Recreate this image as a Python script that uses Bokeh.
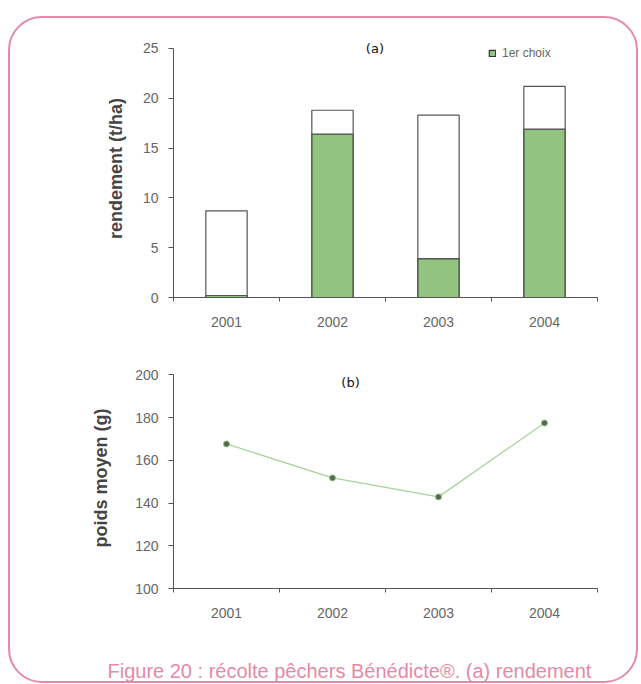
from bokeh.plotting import figure
from bokeh.layouts import column, row
from bokeh.models import (Range1d, FixedTicker, Label, Legend, LegendItem, Spacer,
                          ColumnDataSource, Title)
from bokeh.embed import file_html
from bokeh.resources import INLINE

years = ["2001", "2002", "2003", "2004"]
premier_choix = [0.2, 16.4, 3.9, 16.9]
total = [8.7, 18.8, 18.3, 21.2]
poids_moyen = [167.7, 151.8, 142.9, 177.5]

PINK = "#e48aa6"
GREEN = "#93c47f"
TICK_FONT = "Liberation Sans"

xpos = [i + 0.5 for i in range(len(years))]
autres = [t - p for t, p in zip(total, premier_choix)]
src = ColumnDataSource(dict(x=xpos, premier=premier_choix, autres=autres,
                            total=total, poids=poids_moyen))
overrides = {x: y for x, y in zip(xpos, years)}


def style(p, ylabel, yticks, label_standoff):
    p.xgrid.visible = False
    p.ygrid.visible = False
    p.outline_line_color = None
    p.background_fill_color = None
    p.border_fill_color = None
    p.xaxis.ticker = FixedTicker(ticks=xpos, minor_ticks=list(range(len(years) + 1)))
    p.xaxis.major_label_overrides = overrides
    p.xaxis.major_tick_in = 0
    p.xaxis.major_tick_out = 0
    p.xaxis.minor_tick_in = 0
    p.xaxis.minor_tick_out = 4
    p.yaxis.ticker = FixedTicker(ticks=yticks, minor_ticks=[])
    p.yaxis.bounds = (yticks[0], yticks[-1])
    p.yaxis.major_tick_in = 0
    p.yaxis.major_tick_out = 5
    for ax in (p.xaxis[0], p.yaxis[0]):
        ax.axis_line_color = "#555555"
        ax.major_tick_line_color = "#555555"
        ax.minor_tick_line_color = "#555555"
        ax.major_label_text_font = TICK_FONT
        ax.major_label_text_font_size = "14px"
        ax.major_label_text_color = "#666666"
    p.xaxis.major_label_standoff = 15
    p.yaxis.major_label_standoff = 10
    p.yaxis.axis_label = ylabel
    p.yaxis.axis_label_text_font = TICK_FONT
    p.yaxis.axis_label_text_font_size = "18px"
    p.yaxis.axis_label_text_font_style = "bold"
    p.yaxis.axis_label_text_color = "#444444"
    p.yaxis.axis_label_standoff = label_standoff


# (a) rendement
fa = figure(width=626, height=319, output_backend="svg", toolbar_location=None,
            x_range=Range1d(0, 4), y_range=Range1d(0, 25.9),
            min_border_left=163, min_border_right=39, min_border_top=21,
            min_border_bottom=40)
style(fa, "rendement (t/ha)", [0, 5, 10, 15, 20, 25], 14)
r_green = fa.vbar(x="x", bottom=0, top="premier", width=0.39, source=src,
                  fill_color=GREEN, line_color="#333333", line_width=1.2)
fa.vbar(x="x", bottom="premier", top="total", width=0.39, source=src,
        fill_color="white", line_color="#555555", line_width=1.2)
fa.add_layout(Label(x=1.9, y=25, text="(a)", text_align="center", text_baseline="middle",
                    text_font="DejaVu Sans", text_font_size="13px",
                    text_color="#111111"))
leg = Legend(items=[LegendItem(label="1er choix", renderers=[r_green])],
             location=(315, 237), orientation="vertical",
             glyph_width=8, glyph_height=8, label_standoff=6, label_height=12,
             padding=0, margin=0, border_line_color=None,
             background_fill_alpha=0,
             label_text_font=TICK_FONT, label_text_font_size="12px",
             label_text_color="#666666")
fa.add_layout(leg)

# (b) poids moyen
fb = figure(width=626, height=290, output_backend="svg", toolbar_location=None,
            x_range=Range1d(0, 4), y_range=Range1d(100, 203.5),
            min_border_left=163, min_border_right=39, min_border_top=30,
            min_border_bottom=39)
style(fb, "poids moyen (g)", [100, 120, 140, 160, 180, 200], 21)
fb.line(x="x", y="poids", source=src, line_color="#a8d39a", line_width=1.3)
fb.scatter(x="x", y="poids", source=src, size=6, fill_color="#56664f",
           line_color="#8fc080", line_width=1)
fb.add_layout(Label(x=1.67, y=196.7, text="(b)", text_align="center", text_baseline="middle",
                    text_font="DejaVu Sans", text_font_size="13px",
                    text_color="#111111"))

# caption strip
fc = figure(width=626, height=54, output_backend="svg", toolbar_location=None,
            x_range=Range1d(0, 4), y_range=Range1d(0, 1),
            x_axis_location=None, y_axis_location=None,
            min_border_left=163, min_border_right=39, min_border_top=0,
            min_border_bottom=0)
fc.xgrid.visible = False
fc.ygrid.visible = False
fc.outline_line_color = None
fc.background_fill_color = None
fc.border_fill_color = None
fc.add_layout(Title(text="Figure 20 : récolte pêchers Bénédicte®. (a) rendement",
                    align="left", offset=-66, standoff=0,
                    text_font="Liberation Sans", text_font_size="20px",
                    text_line_height=1.0,
                    text_font_style="normal", text_color=PINK), "below")

box = column(fa, fb, fc, styles={"border": "2px solid " + PINK, "border-radius": "34px"})
root = column(Spacer(width=630, height=16), row(Spacer(width=8, height=10), box))

open("out.html", "w").write(file_html(root, INLINE))
